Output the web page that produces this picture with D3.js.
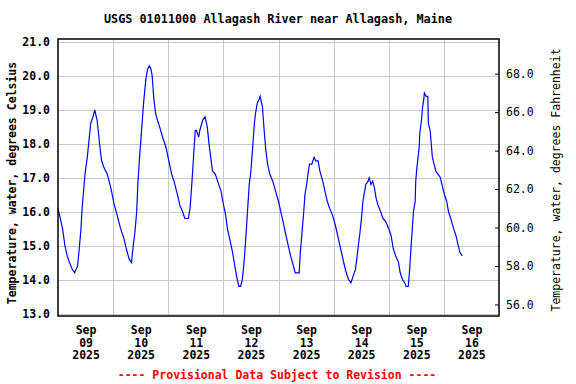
<!DOCTYPE html>
<html>
<head>
<meta charset="utf-8">
<script src="https://cdn.jsdelivr.net/npm/d3@7"></script>
<style>
  body { margin: 0; background: #fff; }
  text { font-family: "DejaVu Sans Mono", monospace; }
</style>
</head>
<body>
<div id="chart"></div>
<script>
const title = "USGS 01011000 Allagash River near Allagash, Maine";
const leftLabel = "Temperature, water, degrees Celsius";
const rightLabel = "Temperature, water, degrees Fahrenheit";
const footnote = "---- Provisional Data Subject to Revision ----";

const celsiusTicks = [13, 14, 15, 16, 17, 18, 19, 20, 21];
const fahrenheitTicks = [56, 58, 60, 62, 64, 66, 68];
const dayTicks = ["2025-09-09", "2025-09-10", "2025-09-11", "2025-09-12",
                  "2025-09-13", "2025-09-14", "2025-09-15", "2025-09-16"];
const dateRange = ["2025-09-09T00:00", "2025-09-17T00:00"];

// instantaneous readings (local time) and water temperature, deg C
const readingTimes = [
  // Sep 09
  "09-09 00:00","09-09 01:00","09-09 02:00","09-09 03:00","09-09 04:00","09-09 05:00","09-09 06:15","09-09 07:15",
  "09-09 08:30","09-09 09:15","09-09 10:00","09-09 10:30","09-09 11:15","09-09 11:45","09-09 12:45","09-09 13:30",
  "09-09 14:15","09-09 15:15","09-09 16:00","09-09 17:00","09-09 17:30","09-09 18:15","09-09 19:00","09-09 20:00",
  "09-09 21:30","09-09 23:00",
  // Sep 10
  "09-10 00:30","09-10 01:45","09-10 03:15","09-10 04:45","09-10 05:45","09-10 07:00","09-10 08:00","09-10 08:45",
  "09-10 09:30","09-10 10:15","09-10 10:45","09-10 11:30","09-10 12:30","09-10 13:15","09-10 14:15","09-10 15:00",
  "09-10 15:45","09-10 16:30","09-10 17:00","09-10 17:45","09-10 18:30","09-10 19:15","09-10 20:15","09-10 21:30",
  "09-10 23:00",
  // Sep 11
  "09-11 00:15","09-11 01:30","09-11 02:30","09-11 04:00","09-11 05:00","09-11 06:15","09-11 07:15","09-11 08:45",
  "09-11 09:30","09-11 10:15","09-11 11:00","09-11 11:45","09-11 12:15","09-11 12:45","09-11 13:15","09-11 13:45",
  "09-11 15:00","09-11 16:00","09-11 17:00","09-11 17:45","09-11 18:30","09-11 19:15","09-11 20:30","09-11 21:30",
  "09-11 23:00","09-11 23:45",
  // Sep 12
  "09-12 01:00","09-12 01:45","09-12 02:45","09-12 04:00","09-12 05:00","09-12 05:45","09-12 06:45","09-12 07:30",
  "09-12 08:15","09-12 09:00","09-12 09:45","09-12 10:30","09-12 11:15","09-12 12:00","09-12 12:45","09-12 13:30",
  "09-12 14:00","09-12 14:45","09-12 15:30","09-12 16:00","09-12 17:00","09-12 17:45","09-12 18:30","09-12 19:15",
  "09-12 20:15","09-12 21:30","09-12 22:45",
  // Sep 13
  "09-13 00:00","09-13 01:00","09-13 02:00","09-13 03:15","09-13 04:15","09-13 05:15","09-13 06:30","09-13 07:15",
  "09-13 09:00","09-13 09:30","09-13 10:15","09-13 11:00","09-13 11:30","09-13 12:15","09-13 13:00","09-13 13:30",
  "09-13 14:30","09-13 15:30","09-13 16:15","09-13 17:15","09-13 18:00","09-13 19:15","09-13 20:15","09-13 21:15",
  "09-13 22:15","09-13 23:30",
  // Sep 14
  "09-14 00:45","09-14 01:45","09-14 02:45","09-14 03:45","09-14 04:45","09-14 05:30","09-14 06:30","09-14 07:30",
  "09-14 08:30","09-14 09:30","09-14 10:15","09-14 10:45","09-14 11:30","09-14 12:15","09-14 12:45","09-14 13:30",
  "09-14 14:00","09-14 15:00","09-14 15:30","09-14 16:15","09-14 17:00","09-14 17:45","09-14 18:30","09-14 19:15",
  "09-14 20:30","09-14 21:30","09-14 22:45",
  // Sep 15
  "09-15 00:00","09-15 01:00","09-15 02:00","09-15 03:00","09-15 04:15","09-15 05:00","09-15 06:00","09-15 07:00",
  "09-15 07:30","09-15 08:30","09-15 09:00","09-15 09:45","09-15 10:15","09-15 10:45","09-15 11:30","09-15 11:45",
  "09-15 12:15","09-15 12:45","09-15 13:15","09-15 13:30","09-15 14:15","09-15 14:45","09-15 15:15","09-15 15:30",
  "09-15 16:15","09-15 17:00","09-15 17:15","09-15 18:00","09-15 18:30","09-15 19:00","09-15 19:45","09-15 20:30",
  "09-15 21:30","09-15 22:30","09-15 23:30",
  // Sep 16
  "09-16 00:15","09-16 01:15","09-16 02:00","09-16 03:00","09-16 04:15","09-16 05:15","09-16 06:15","09-16 07:00",
  "09-16 08:00"
];

const tempC = [
  // Sep 09
  16.1, 15.8, 15.5, 15.0, 14.7, 14.5, 14.3, 14.2,
  14.4, 14.9, 15.5, 16.1, 16.7, 17.1, 17.6, 18.1,
  18.6, 18.8, 19.0, 18.7, 18.4, 17.9, 17.5, 17.3,
  17.1, 16.7,
  // Sep 10
  16.2, 15.9, 15.5, 15.2, 14.9, 14.6, 14.5, 15.0,
  15.4, 16.0, 16.8, 17.6, 18.5, 19.2, 19.9, 20.2,
  20.3, 20.2, 20.0, 19.3, 18.9, 18.7, 18.5, 18.2,
  17.9,
  // Sep 11
  17.5, 17.1, 16.9, 16.5, 16.2, 16.0, 15.8, 15.8,
  16.1, 16.8, 17.6, 18.4, 18.4, 18.3, 18.2, 18.4,
  18.7, 18.8, 18.5, 18.0, 17.6, 17.2, 17.1, 16.9,
  16.6, 16.3,
  // Sep 12
  15.9, 15.5, 15.2, 14.8, 14.4, 14.1, 13.8, 13.8,
  14.0, 14.5, 15.2, 16.0, 16.8, 17.2, 17.9, 18.6,
  18.9, 19.2, 19.3, 19.4, 19.1, 18.4, 17.8, 17.4,
  17.1, 16.9, 16.6,
  // Sep 13
  16.3, 16.0, 15.7, 15.3, 15.0, 14.7, 14.4, 14.2,
  14.2, 14.8, 15.4, 16.0, 16.5, 16.8, 17.2, 17.4,
  17.4, 17.6, 17.5, 17.5, 17.2, 16.9, 16.6, 16.3,
  16.1, 15.9,
  // Sep 14
  15.6, 15.3, 15.0, 14.7, 14.4, 14.2, 14.0, 13.9,
  14.1, 14.3, 14.7, 15.0, 15.4, 15.9, 16.3, 16.6,
  16.8, 16.9, 17.0, 16.8, 16.9, 16.7, 16.4, 16.2,
  16.0, 15.8, 15.7,
  // Sep 15
  15.5, 15.3, 14.9, 14.7, 14.5, 14.2, 14.0, 13.9,
  13.8, 13.8, 14.2, 15.0, 15.5, 16.0, 16.3, 16.9,
  17.3, 17.6, 17.9, 18.3, 18.7, 19.1, 19.3, 19.5,
  19.4, 19.4, 18.6, 18.4, 18.0, 17.6, 17.4, 17.2,
  17.1, 17.0, 16.7,
  // Sep 16
  16.5, 16.3, 16.0, 15.8, 15.5, 15.3, 15.0, 14.8,
  14.7
];

const width = 576, height = 384,
  margin = ({ top: 39, right: 77, bottom: 68, left: 58 });

const parseReading = d3.timeParse("%Y-%m-%d %H:%M");
const parseIso = d3.timeParse("%Y-%m-%dT%H:%M");
const parseDay = d3.timeParse("%Y-%m-%d");

const data = readingTimes.map((t, i) => ({ time: parseReading("2025-" + t), value: tempC[i] }));

const svg = d3.select("#chart")
  .append("svg")
  .attr("width", width)
  .attr("height", height)
  .attr("viewBox", [0, 0, width, height]);

const x = d3.scaleTime()
  .domain(dateRange.map(parseIso))
  .range([margin.left, width - margin.right]);

// celsius ticks sit a few px inside the frame
const y = d3.scaleLinear()
  .domain(d3.extent(celsiusTicks))
  .range([height - margin.bottom - 2.5, margin.top + 3]);

// fahrenheit axis spans the same range of C over the whole frame
const toF = c => c * 1.8 + 32;
const yF = d3.scaleLinear()
  .domain(d3.extent(celsiusTicks).map(toF))
  .range([height - margin.bottom, margin.top]);

// grid
svg.append("g")
  .selectAll("line")
  .data(celsiusTicks)
  .join("line")
    .attr("x1", margin.left)
    .attr("x2", width - margin.right)
    .attr("y1", d => Math.round(y(d)) + 0.5)
    .attr("y2", d => Math.round(y(d)) + 0.5)
    .attr("stroke", "#c8c8c8");

const midnights = dayTicks.slice(1).map(parseDay);
svg.append("g")
  .selectAll("line")
  .data(midnights)
  .join("line")
    .attr("x1", d => Math.round(x(d)) + 0.5)
    .attr("x2", d => Math.round(x(d)) + 0.5)
    .attr("y1", margin.top)
    .attr("y2", height - margin.bottom)
    .attr("stroke", "#c8c8c8");

// data line
const line = d3.line()
  .x(d => x(d.time))
  .y(d => y(d.value));

svg.append("path")
  .datum(data)
  .attr("d", line)
  .attr("fill", "none")
  .attr("stroke", "#0000ff")
  .attr("stroke-width", 1.2);

// frame
svg.append("rect")
  .attr("x", margin.left)
  .attr("y", margin.top)
  .attr("width", width - margin.left - margin.right)
  .attr("height", height - margin.top - margin.bottom)
  .attr("fill", "none")
  .attr("stroke", "#000")
  .attr("stroke-width", 1.5);

// left axis
svg.append("g")
  .attr("transform", `translate(${margin.left},0)`)
  .call(d3.axisLeft(y).tickValues(celsiusTicks).tickFormat(d3.format(".1f")).tickSize(0).tickPadding(8))
  .call(g => g.select(".domain").remove())
  .selectAll("text")
    .attr("fill", "#000")
    .style("font-family", '"DejaVu Sans Mono", monospace')
    .style("font-size", "11.5px")
    .style("font-weight", "bold");

// right axis
svg.append("g")
  .attr("transform", `translate(${width - margin.right},0)`)
  .call(d3.axisRight(yF).tickValues(fahrenheitTicks).tickFormat(d3.format(".1f")).tickSize(-4).tickPadding(7))
  .call(g => g.select(".domain").remove())
  .call(g => g.selectAll(".tick line").attr("stroke", "#000"))
  .selectAll("text")
    .attr("fill", "#000")
    .style("font-family", '"DejaVu Sans Mono", monospace')
    .style("font-size", "11.5px");

// bottom axis, labels at noon of each day
const noons = dayTicks.map(d => d3.timeHour.offset(parseDay(d), 12));
const fmtMonth = d3.timeFormat("%b"), fmtDay = d3.timeFormat("%d"), fmtYear = d3.timeFormat("%Y");

svg.append("g")
  .attr("transform", `translate(0,${height - margin.bottom})`)
  .call(d3.axisBottom(x).tickValues(noons).tickSize(0).tickPadding(0).tickFormat(""))
  .call(g => g.select(".domain").remove())
  .selectAll(".tick text")
    .attr("fill", "#000")
    .attr("y", 18)
    .attr("dy", null)
    .style("font-family", '"DejaVu Sans Mono", monospace')
    .style("font-size", "11.5px")
    .style("font-weight", "bold")
    .each(function(d) {
      const t = d3.select(this);
      [fmtMonth(d), fmtDay(d), fmtYear(d)].forEach((s, i) => {
        t.append("tspan").attr("x", 0).attr("y", 18 + i * 12.6).text(s);
      });
    });

// titles
svg.append("text")
  .attr("x", 278)
  .attr("y", 23)
  .attr("text-anchor", "middle")
  .style("font-size", "11.8px")
  .style("font-weight", "bold")
  .text(title);

svg.append("text")
  .attr("transform", "rotate(-90)")
  .attr("x", -183)
  .attr("y", 16)
  .attr("text-anchor", "middle")
  .style("font-size", "11.5px")
  .style("font-weight", "bold")
  .text(leftLabel);

svg.append("text")
  .attr("transform", "rotate(-90)")
  .attr("x", -180)
  .attr("y", 560)
  .attr("text-anchor", "middle")
  .style("font-size", "11.5px")
  .text(rightLabel);

svg.append("text")
  .attr("x", 277)
  .attr("y", 379)
  .attr("text-anchor", "middle")
  .attr("fill", "#ff0000")
  .style("font-size", "11.5px")
  .style("font-weight", "bold")
  .text(footnote);
</script>
</body>
</html>
